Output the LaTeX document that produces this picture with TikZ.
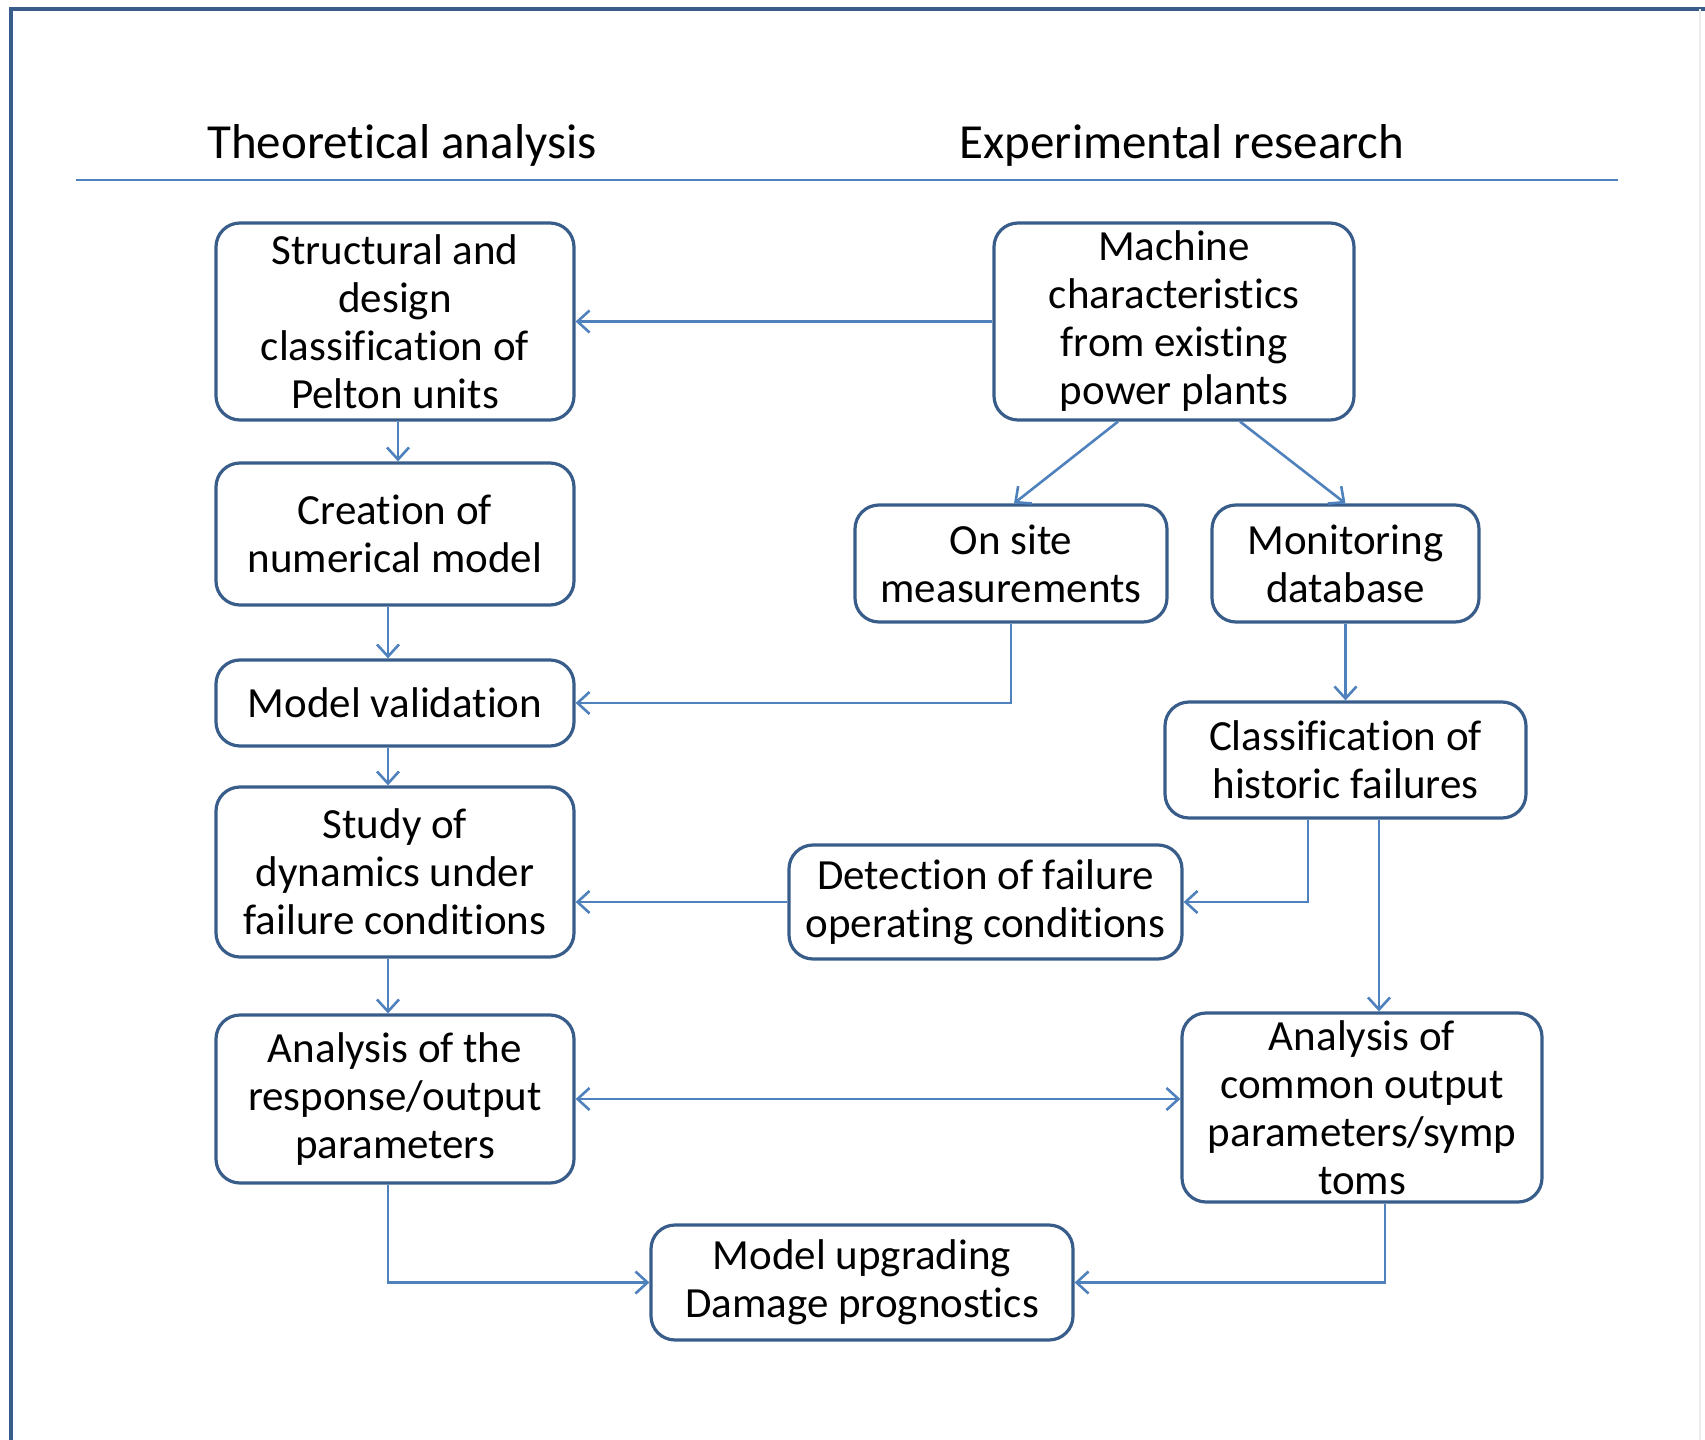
\documentclass[tikz,border=0pt]{standalone}
\usepackage{fontspec}
\setmainfont{Carlito}[Ligatures=NoCommon]
\usetikzlibrary{arrows.meta}
\definecolor{boxblue}{RGB}{56,93,138}
\definecolor{lineblue}{RGB}{79,129,189}

\begin{document}
\begin{tikzpicture}[x=0.5pt,y=-0.5pt,
  box/.style={draw=boxblue,line width=1.6pt,rounded corners=12pt,align=center,inner sep=0pt,
    font=\fontsize{21.5}{24}\selectfont},
  arr/.style={draw=lineblue,line width=1.3pt,-{Straight Barb[length=6pt,width=11pt]}},
  twoarr/.style={arr,{Straight Barb[length=6pt,width=11pt]}-{Straight Barb[length=6pt,width=11pt]}},
  head/.style={font=\fontsize{24.5}{28}\selectfont}]
\useasboundingbox (0,0) rectangle (1705,1440);
% frame and header
\draw[boxblue,line width=2pt] (11,1440) -- (11,9) -- (1705,9);
\draw[gray!15,line width=1pt] (1700,9) -- (1700,1440);
\node[head] (theo) at (402,145) {Theoretical analysis};
\node[head] (expe) at (1182,145) {Experimental research};
\draw[lineblue,line width=1.2pt] (76,180) -- (1618,180);

% left column
\node[box,minimum width=179pt,minimum height=98.5pt] (struct) at (395,321.5) {Structural and\\design\\classification of\\Pelton units};
\node[box,minimum width=179pt,minimum height=71pt] (creat) at (395,534) {Creation of\\numerical model};
\node[box,minimum width=179pt,minimum height=43pt] (valid) at (395,703) {Model validation};
\node[box,minimum width=179pt,minimum height=85pt] (study) at (395,872) {Study of\\dynamics under\\failure conditions};
\node[box,minimum width=179pt,minimum height=84pt] (resp) at (395,1099) {Analysis of the\\response/output\\parameters};

% right column
\node[box,minimum width=180pt,minimum height=98.5pt] (mach) at (1174,321.5) {Machine\\characteristics\\from existing\\power plants};
\node[box,minimum width=156pt,minimum height=58.5pt] (onsite) at (1011,563.5) {On site\\measurements};
\node[box,minimum width=133.5pt,minimum height=58.5pt] (monit) at (1345.5,563.5) {Monitoring\\database};
\node[box,minimum width=180.5pt,minimum height=58pt] (classif) at (1345.5,760) {Classification of\\historic failures};
\node[box,minimum width=196.5pt,minimum height=57pt] (detect) at (985.5,902) {Detection of failure\\operating conditions};
\node[box,minimum width=180pt,minimum height=94.5pt] (common) at (1362,1107.5) {Analysis of\\common output\\parameters/symp\\toms};
\node[box,minimum width=211pt,minimum height=57.5pt] (upgr) at (862,1282.5) {Model upgrading\\Damage prognostics};

% connectors
\coordinate (lx) at (388,0);
\draw[arr] (mach.west) -- (struct.east);
\draw[arr] ([xshift=1.5pt]struct.south) -- ([xshift=1.5pt]creat.north);
\foreach \a/\b in {creat/valid,valid/study,study/resp}
  \draw[arr] (\a.south -| lx) -- (\b.north -| lx);
\draw[arr] ([xshift=-28pt]mach.south) -- ([xshift=1.5pt]onsite.north);
\draw[arr] ([xshift=33pt]mach.south) -- (monit.north);
\draw[arr] (onsite.south) |- (valid.east);
\draw[arr] (monit.south) -- (classif.north);
\draw[arr] ([xshift=-18.75pt]classif.south) |- (detect.east);
\draw[arr] ([xshift=16.75pt]classif.south) -- ([xshift=8.5pt]common.north);
\draw[arr] (detect.west) -- (detect.west -| study.east);
\draw[twoarr] (resp.east) -- (resp.east -| common.west);
\draw[arr] (resp.south -| lx) |- (upgr.west);
\draw[arr] ([xshift=11.5pt]common.south) |- (upgr.east);
\end{tikzpicture}
\end{document}
